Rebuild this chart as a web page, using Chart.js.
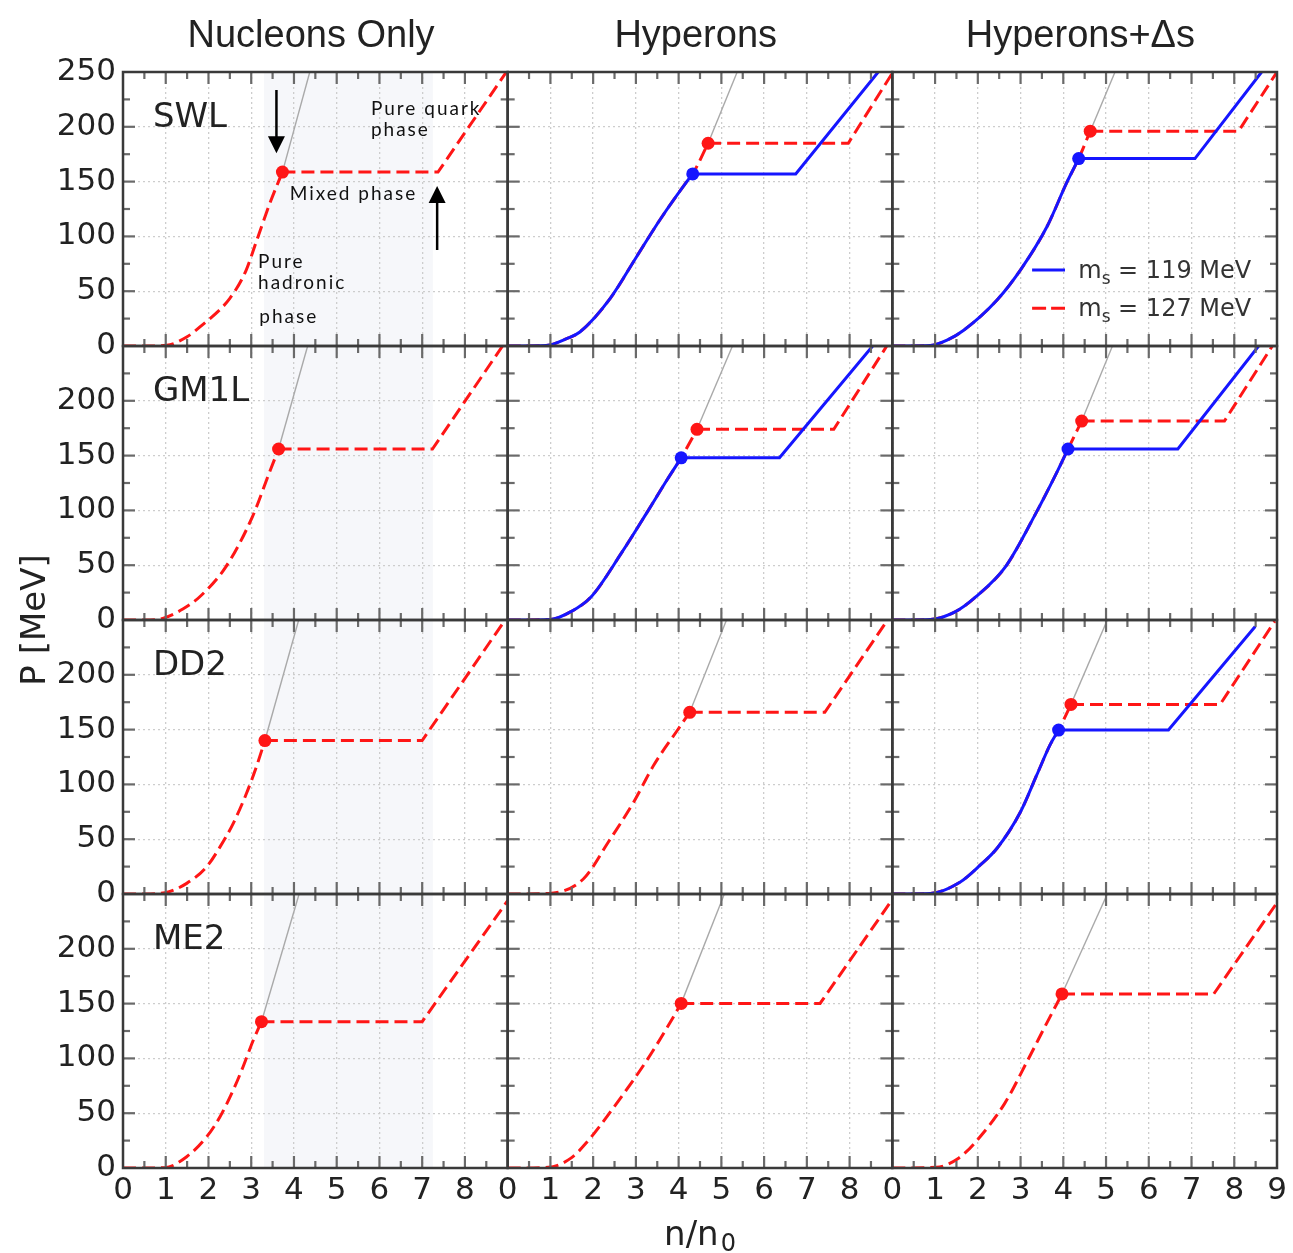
<!DOCTYPE html>
<html>
<head>
<meta charset="utf-8">
<title>Pressure vs density with hadron-quark mixed phase</title>
<script src="https://cdn.jsdelivr.net/npm/chart.js@4.4.1/dist/chart.umd.min.js"></script>
<style>
  html, body { margin: 0; padding: 0; background: #fff; }
  #wrap { position: relative; width: 1293px; height: 1253px; }
  canvas { display: block; }
</style>
</head>
<body>
<div id="wrap"><canvas id="eos" width="1293" height="1253"></canvas></div>
<script>
// ---- labels ---------------------------------------------------------------
const columnTitles = ['Nucleons Only', 'Hyperons', 'Hyperons+Δs'];
const eosLabels = ['SWL', 'GM1L', 'DD2', 'ME2'];
const strangeMasses = ['119', '127'];          // m_s in MeV
const mixedPhaseBand = [3.3, 7.25];            // shaded n/n0 range, nucleons-only column

// ---- data: [n/n0, P (MeV)] ------------------------------------------------
// hadronic branch up to the first onset of the mixed phase,
// mixed-phase plateau + pure quark branch (onset, end of plateau, last point),
// and the top of the continued hadronic EOS.

// SWL
const swlNucHadron = [[0,0],[0.5,0],[1.02,0.6],[1.49,8.2],[1.8,17.4],[2.5,43.5],[2.88,69],[3.12,95.4],[3.44,130.6],[3.73,158.7]];
const swlNucQuark127 = [[3.73,158.7],[7.37,158.7],[8.97,250]];
const swlNucTop = [4.37,250];

const swlHypHadron = [[0,0],[0.9,0.5],[1.38,6.7],[1.69,12.8],[2.4,43.5],[3.02,81.7],[3.56,115],[4.23,152],[4.33,157]];
const swlHypQuark119 = [[4.33,157],[6.74,157],[8.67,250]];
const swlHypQuark127 = [[4.69,185],[7.97,185],[9.0,249]];
const swlHypTop = [5.37,250];

const swlDeltaHadron = [[0,0],[0.89,0.5],[1.28,5.3],[1.67,14.4],[2.45,42],[3.0,69.5],[3.62,109],[4.08,149],[4.36,171]];
const swlDeltaQuark119 = [[4.36,171],[7.08,171],[8.64,250]];
const swlDeltaQuark127 = [[4.63,196],[8.1,196],[9.0,250]];
const swlDeltaTop = [5.21,250];

// GM1L
const gm1lNucHadron = [[0,0],[0.5,0],[0.93,1.5],[1.4,10],[1.79,21],[2.41,48.7],[3.03,94.4],[3.42,134],[3.64,156]];
const gm1lNucQuark127 = [[3.64,156],[7.24,156],[8.88,250]];
const gm1lNucTop = [4.32,250];

const gm1lHypHadron = [[0,0],[1.0,0.5],[1.48,7.6],[1.95,21],[2.66,61],[3.25,97.5],[3.73,128],[4.06,148]];
const gm1lHypQuark119 = [[4.06,148],[6.36,148],[8.54,250]];
const gm1lHypQuark127 = [[4.43,174],[7.63,174],[8.87,250]];
const gm1lHypTop = [5.26,250];

const gm1lDeltaHadron = [[0,0],[0.89,0.5],[1.48,7.6],[1.95,21],[2.65,48.7],[3.36,97.5],[3.84,134],[4.11,156]];
const gm1lDeltaQuark119 = [[4.11,156],[6.68,156],[8.57,250]];
const gm1lDeltaQuark127 = [[4.43,181.5],[7.77,181.5],[8.89,250]];
const gm1lDeltaTop = [5.15,250];

// DD2
const dd2NucHadron = [[0,0],[0.5,0],[0.98,1.2],[1.49,9.7],[1.96,25],[2.27,43],[2.58,64.5],[2.89,91.9],[3.12,116],[3.32,140]];
const dd2NucQuark127 = [[3.32,140],[7.0,140],[8.94,250]];
const dd2NucTop = [4.11,250];

const dd2HypHadron = [[0,0],[0.95,0.5],[1.77,13.7],[2.36,47.7],[2.95,84],[3.42,117.7],[4.0,151],[4.26,165.8]];
const dd2HypQuark127 = [[4.26,165.8],[7.42,165.8],[8.89,250]];
const dd2HypTop = [5.12,250];

const dd2DeltaHadron = [[0,0],[0.89,0.5],[1.59,11],[2.06,26.5],[2.45,41.7],[3.0,75],[3.38,108.6],[3.69,136],[3.89,149.6]];
const dd2DeltaQuark119 = [[3.89,149.6],[6.46,149.6],[8.49,244]];
const dd2DeltaQuark127 = [[4.18,173],[7.67,173],[8.95,249]];
const dd2DeltaTop = [5.03,250];

// ME2
const me2NucHadron = [[0,0],[0.5,0],[0.98,0.3],[1.49,10.3],[1.96,28.6],[2.27,46.8],[2.58,71.2],[2.81,92.4],[3.05,116.8],[3.24,133.5]];
const me2NucQuark127 = [[3.24,133.5],[7.0,133.5],[9.0,244]];
const me2NucTop = [4.12,250];

const me2HypHadron = [[0,0],[0.95,0.6],[1.48,9],[1.83,22.5],[2.55,59],[3.26,98.5],[3.79,132],[4.06,150.2]];
const me2HypQuark127 = [[4.06,150.2],[7.31,150.2],[9.0,245]];
const me2HypTop = [5.07,250];

const me2DeltaHadron = [[0,0],[1.03,0.6],[1.55,9],[1.92,22.5],[2.63,59],[3.17,98.5],[3.61,132],[3.97,158.8]];
const me2DeltaQuark127 = [[3.97,158.8],[7.52,158.8],[9.0,242]];
const me2DeltaTop = [5.03,250];

// ---- panel table (rows: EOS, columns: composition) -------------------------
const panelGrid = [
  [
    { hadron: swlNucHadron, q119: null, q127: swlNucQuark127, top: swlNucTop },
    { hadron: swlHypHadron, q119: swlHypQuark119, q127: swlHypQuark127, top: swlHypTop },
    { hadron: swlDeltaHadron, q119: swlDeltaQuark119, q127: swlDeltaQuark127, top: swlDeltaTop }
  ],
  [
    { hadron: gm1lNucHadron, q119: null, q127: gm1lNucQuark127, top: gm1lNucTop },
    { hadron: gm1lHypHadron, q119: gm1lHypQuark119, q127: gm1lHypQuark127, top: gm1lHypTop },
    { hadron: gm1lDeltaHadron, q119: gm1lDeltaQuark119, q127: gm1lDeltaQuark127, top: gm1lDeltaTop }
  ],
  [
    { hadron: dd2NucHadron, q119: null, q127: dd2NucQuark127, top: dd2NucTop },
    { hadron: dd2HypHadron, q119: null, q127: dd2HypQuark127, top: dd2HypTop },
    { hadron: dd2DeltaHadron, q119: dd2DeltaQuark119, q127: dd2DeltaQuark127, top: dd2DeltaTop }
  ],
  [
    { hadron: me2NucHadron, q119: null, q127: me2NucQuark127, top: me2NucTop },
    { hadron: me2HypHadron, q119: null, q127: me2HypQuark127, top: me2HypTop },
    { hadron: me2DeltaHadron, q119: null, q127: me2DeltaQuark127, top: me2DeltaTop }
  ]
];

// ---- styling ----------------------------------------------------------------
const RED = 'rgb(255,22,22)';
const BLUE = 'rgb(22,22,255)';
const HADRON_GREY = '#a9a9a9';
const RED_DASH = [13, 6];
const TICK_FONT = { family: 'DejaVu Sans', size: 31 };

const toXY = arr => arr.map(([x, y]) => ({ x, y }));

// ---- datasets ---------------------------------------------------------------
const datasets = [];
panelGrid.forEach((rowPanels, r) => {
  rowPanels.forEach((p, c) => {
    const axes = { xAxisID: 'x' + c, yAxisID: 'y' + r };
    const tag = eosLabels[r] + ' / ' + columnTitles[c];
    // continuation of the purely hadronic EOS
    datasets.push({ ...axes, label: tag + ' hadronic', data: toXY([p.q127[0], p.top]),
      borderColor: HADRON_GREY, borderWidth: 1.4, pointRadius: 0, order: 6 });
    // m_s = 127 MeV
    const redHadron = p.q119 ? p.hadron.concat([p.q127[0]]) : p.hadron;
    datasets.push({ ...axes, label: tag + ' 127', data: toXY(redHadron),
      borderColor: RED, borderWidth: 3, borderDash: RED_DASH, cubicInterpolationMode: 'monotone',
      pointRadius: 0, order: 5 });
    datasets.push({ ...axes, label: tag + ' 127 mixed/quark', data: toXY(p.q127),
      borderColor: RED, borderWidth: 3, borderDash: RED_DASH, tension: 0, pointRadius: 0, order: 5 });
    // m_s = 119 MeV
    if (p.q119) {
      datasets.push({ ...axes, label: tag + ' 119', data: toXY(p.hadron),
        borderColor: BLUE, borderWidth: 3, cubicInterpolationMode: 'monotone', pointRadius: 0, order: 3 });
      datasets.push({ ...axes, label: tag + ' 119 mixed/quark', data: toXY(p.q119),
        borderColor: BLUE, borderWidth: 3, tension: 0, pointRadius: 0, order: 3 });
      datasets.push({ ...axes, label: tag + ' 119 onset', data: toXY([p.q119[0]]), showLine: false,
        pointRadius: 6.5, pointBackgroundColor: BLUE, pointBorderWidth: 0, order: 1 });
    }
    datasets.push({ ...axes, label: tag + ' 127 onset', data: toXY([p.q127[0]]), showLine: false,
      pointRadius: 6.5, pointBackgroundColor: RED, pointBorderWidth: 0, order: 1 });
  });
});

// ---- scales: 3 stacked x axes (columns), 4 stacked y axes (rows) --------------
const gridStyle = { color: '#cdcdcd', lineWidth: 1.3, drawTicks: false };
const scales = {};
columnTitles.forEach((_, c) => {
  scales['x' + c] = {
    type: 'linear', position: 'bottom', stack: 'columns', stackWeight: 1, weight: c,
    min: 0, max: 9,
    afterFit: s => { s.height = 40; },
    grid: gridStyle,
    border: { display: false, dash: [2, 3] },
    ticks: {
      stepSize: 1, autoSkip: false, maxRotation: 0, padding: 4, color: '#222', font: TICK_FONT,
      callback: v => (c < columnTitles.length - 1 && v === 9) ? '' : String(v)
    }
  };
});
eosLabels.forEach((_, r) => {
  scales['y' + r] = {
    type: 'linear', position: 'left', stack: 'rows', stackWeight: 1, weight: eosLabels.length - r,
    min: 0, max: 250,
    afterFit: s => { s.width = 123; },
    grid: gridStyle,
    border: { display: false, dash: [2, 3] },
    ticks: {
      stepSize: 50, autoSkip: false, padding: 7, color: '#222', font: TICK_FONT,
      callback: v => (r > 0 && v === 250) ? '' : String(v)
    }
  };
});

// ---- annotations in the SWL / nucleons-only panel ---------------------------
const phaseNotes = [
  ['Pure quark', 5.8, 210.8], ['phase', 5.8, 191.6],
  ['Mixed phase', 3.9, 133.2],
  ['Pure', 3.16, 70.8], ['hadronic', 3.16, 51.6], ['phase', 3.19, 20.7]
];
const phaseArrows = [[3.59, 233.6, 175.8], [7.35, 87.6, 146]];   // n, tail P, tip P

// ---- frame, inward ticks, labels --------------------------------------------
const panelFrame = {
  id: 'panelFrame',
  beforeDraw(chart) {
    const { ctx } = chart;
    ctx.save();
    ctx.fillStyle = '#fff';
    ctx.fillRect(0, 0, chart.width, chart.height);
    const xs = chart.scales.x0;
    const top = chart.scales.y0.top, bottom = chart.scales['y' + (eosLabels.length - 1)].bottom;
    const l = xs.getPixelForValue(mixedPhaseBand[0]);
    const rr = xs.getPixelForValue(mixedPhaseBand[1]);
    ctx.fillStyle = '#f6f7fa';
    ctx.fillRect(l, top, rr - l, bottom - top);
    ctx.restore();
  },
  afterDraw(chart) {
    const { ctx } = chart;
    const line = (x1, y1, x2, y2) => { ctx.beginPath(); ctx.moveTo(x1, y1); ctx.lineTo(x2, y2); ctx.stroke(); };
    ctx.save();

    // inward major/minor ticks on every side of every panel
    ctx.strokeStyle = '#6a6a6a';
    ctx.lineWidth = 2.2;
    for (let c = 0; c < columnTitles.length; c++) {
      for (let r = 0; r < eosLabels.length; r++) {
        const xs = chart.scales['x' + c], ys = chart.scales['y' + r];
        for (let k = 1; k < 18; k++) {
          const px = xs.getPixelForValue(k * 0.5);
          const len = k % 2 === 0 ? 12 : 7;
          line(px, ys.top, px, ys.top + len);
          line(px, ys.bottom, px, ys.bottom - len);
        }
        for (let k = 1; k < 10; k++) {
          const py = ys.getPixelForValue(k * 25);
          const len = k % 2 === 0 ? 12 : 7;
          line(xs.left, py, xs.left + len, py);
          line(xs.right, py, xs.right - len, py);
        }
      }
    }
    // panel frames
    ctx.strokeStyle = '#3a3a3a';
    ctx.lineWidth = 2.5;
    for (let c = 0; c < columnTitles.length; c++) {
      for (let r = 0; r < eosLabels.length; r++) {
        const xs = chart.scales['x' + c], ys = chart.scales['y' + r];
        ctx.strokeRect(xs.left, ys.top, xs.right - xs.left, ys.bottom - ys.top);
      }
    }

    // column titles
    ctx.fillStyle = '#222';
    ctx.font = '38px "Liberation Sans"';
    ctx.textAlign = 'center';
    ctx.textBaseline = 'alphabetic';
    columnTitles.forEach((t, c) => {
      ctx.fillText(t, chart.scales['x' + c].getPixelForValue(4.4), chart.chartArea.top - 25);
    });

    // EOS labels
    ctx.font = '34px "DejaVu Sans"';
    ctx.textAlign = 'left';
    eosLabels.forEach((t, r) => {
      ctx.fillText(t, chart.scales.x0.getPixelForValue(0.7), chart.scales['y' + r].getPixelForValue(200));
    });

    // axis titles
    const ca = chart.chartArea;
    ctx.save();
    ctx.translate(36, (ca.top + ca.bottom) / 2);
    ctx.rotate(-Math.PI / 2);
    ctx.textAlign = 'center';
    ctx.textBaseline = 'middle';
    ctx.font = '34px "DejaVu Sans"';
    ctx.fillText('P [MeV]', 0, 0);
    ctx.restore();

    ctx.font = '34px "DejaVu Sans"';
    const w1 = ctx.measureText('n/n').width;
    ctx.font = '24px "DejaVu Sans"';
    const w2 = ctx.measureText('0').width;
    const xStart = (ca.left + ca.right) / 2 - (w1 + w2 + 2) / 2;
    ctx.textAlign = 'left';
    ctx.textBaseline = 'alphabetic';
    ctx.font = '34px "DejaVu Sans"';
    ctx.fillText('n/n', xStart, 1245);
    ctx.font = '24px "DejaVu Sans"';
    ctx.fillText('0', xStart + w1 + 2, 1251);

    // legend (SWL / Hyperons+Δs panel)
    const lx = chart.scales.x2, ly = chart.scales.y0;
    const legendRows = [
      { color: BLUE, dash: [], width: 3, P: 69.3, mass: strangeMasses[0] },
      { color: RED, dash: [14, 5], width: 3, P: 34.4, mass: strangeMasses[1] }
    ];
    legendRows.forEach(row => {
      const y = ly.getPixelForValue(row.P);
      ctx.save();
      ctx.strokeStyle = row.color;
      ctx.lineWidth = row.width;
      ctx.setLineDash(row.dash);
      line(lx.getPixelForValue(3.27), y, lx.getPixelForValue(4.04), y);
      ctx.restore();
      let x = lx.getPixelForValue(4.35);
      const base = y + 8;
      ctx.fillStyle = '#333';
      ctx.font = '24px "DejaVu Sans"';
      ctx.fillText('m', x, base);
      x += ctx.measureText('m').width;
      ctx.font = '17px "DejaVu Sans"';
      ctx.fillText('s', x, base + 6);
      x += ctx.measureText('s').width;
      ctx.font = '24px "DejaVu Sans"';
      ctx.fillText(' = ' + row.mass + ' MeV', x, base);
    });

    // phase annotations
    const ax = chart.scales.x0, ay = chart.scales.y0;
    ctx.fillStyle = '#111';
    ctx.font = '19px Lato';
    if ('letterSpacing' in ctx) ctx.letterSpacing = '2px';
    phaseNotes.forEach(([t, n, P]) => ctx.fillText(t, ax.getPixelForValue(n), ay.getPixelForValue(P)));
    if ('letterSpacing' in ctx) ctx.letterSpacing = '0px';

    ctx.strokeStyle = '#000';
    ctx.fillStyle = '#000';
    ctx.lineWidth = 2.5;
    phaseArrows.forEach(([n, tailP, tipP]) => {
      const x = ax.getPixelForValue(n);
      const yTail = ay.getPixelForValue(tailP), yTip = ay.getPixelForValue(tipP);
      const dir = Math.sign(yTip - yTail);
      line(x, yTail, x, yTip - dir * 12);
      ctx.beginPath();
      ctx.moveTo(x, yTip);
      ctx.lineTo(x - 8.5, yTip - dir * 17);
      ctx.lineTo(x + 8.5, yTip - dir * 17);
      ctx.closePath();
      ctx.fill();
    });

    ctx.restore();
  }
};

new Chart(document.getElementById('eos'), {
  type: 'line',
  data: { datasets },
  options: {
    responsive: false,
    animation: false,
    events: [],
    layout: { padding: { left: 0, top: 72, right: 16, bottom: 45 } },
    scales,
    plugins: { legend: { display: false }, tooltip: { enabled: false } }
  },
  plugins: [panelFrame]
});
</script>
</body>
</html>
